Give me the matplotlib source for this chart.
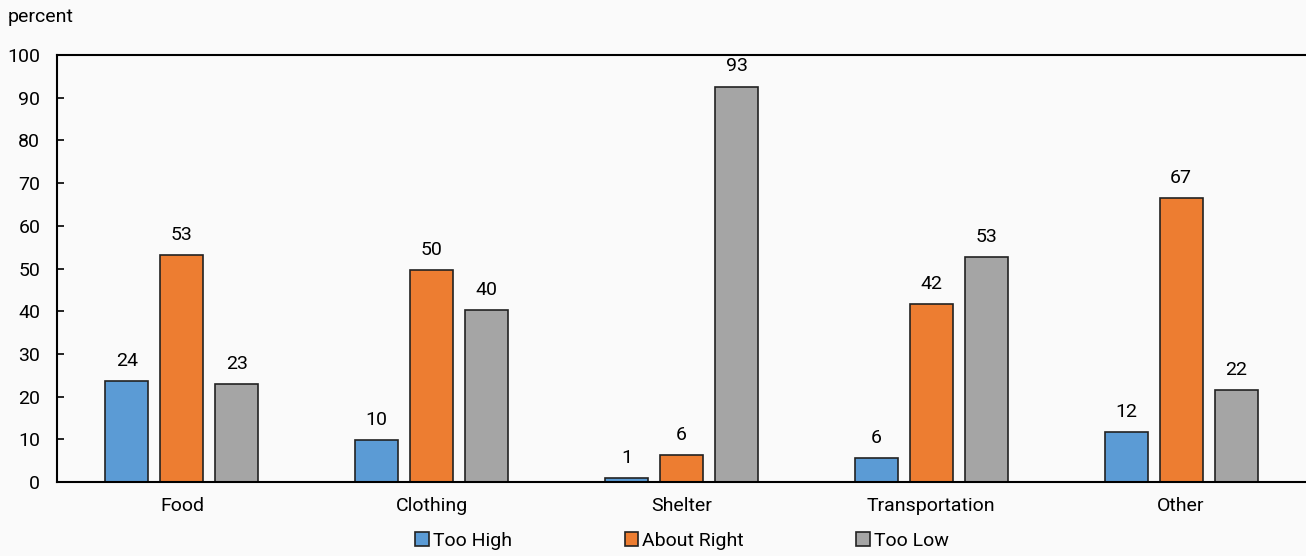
import matplotlib.pyplot as plt
import numpy as np

plt.rcParams['font.family'] = ['Roboto', 'DejaVu Sans']

categories = ['Food', 'Clothing', 'Shelter', 'Transportation', 'Other']
series_names = ['Too High', 'About Right', 'Too Low']
too_high = [23.7, 9.9, 0.9, 5.7, 11.7]
about_right = [53.2, 49.6, 6.3, 41.7, 66.6]
too_low = [22.9, 40.3, 92.6, 52.6, 21.5]
colors = ['#5B9BD5', '#ED7D31', '#A5A5A5']

fig = plt.figure(figsize=(13.06, 5.56), dpi=100, facecolor='#fafafa')
ax = fig.add_axes([57/1306, 1 - 482/556, 1249/1306, 427/556])
ax.set_facecolor('#fafafa')

x = np.arange(len(categories))
width = 0.172
offset = 0.22
for i, (vals, name) in enumerate(zip([too_high, about_right, too_low], series_names)):
    pos = x + (i - 1) * offset
    ax.bar(pos, vals, width, color=colors[i], edgecolor='#222222', linewidth=1.2, label=name)
    for p, v in zip(pos, vals):
        ax.text(p, v + 2.6, f'{v:.0f}', ha='center', va='bottom', fontsize=14)

ax.set_xlim(-0.5, 4.5)
ax.set_ylim(0, 100)
ax.set_yticks(range(0, 101, 10))
ax.set_xticks(x)
ax.set_xticklabels(categories)
ax.tick_params(axis='y', direction='in', length=5, width=1.2, labelsize=14, pad=12)
ax.tick_params(axis='x', length=0, labelsize=14, pad=11)
ax.spines['right'].set_visible(False)
for s in ['left', 'bottom', 'top']:
    ax.spines[s].set_linewidth(1.5)

fig.text(8/1306, 1 - 17/556, 'percent', fontsize=14, va='center', ha='left')

fig.legend(loc='center', bbox_to_anchor=(682/1306, 1 - 541/556), ncol=3, frameon=False,
           fontsize=14, handlelength=0.7, handleheight=0.7, handletextpad=0.2,
           columnspacing=5.8)

fig.savefig('out.png', dpi=100, facecolor=fig.get_facecolor())
